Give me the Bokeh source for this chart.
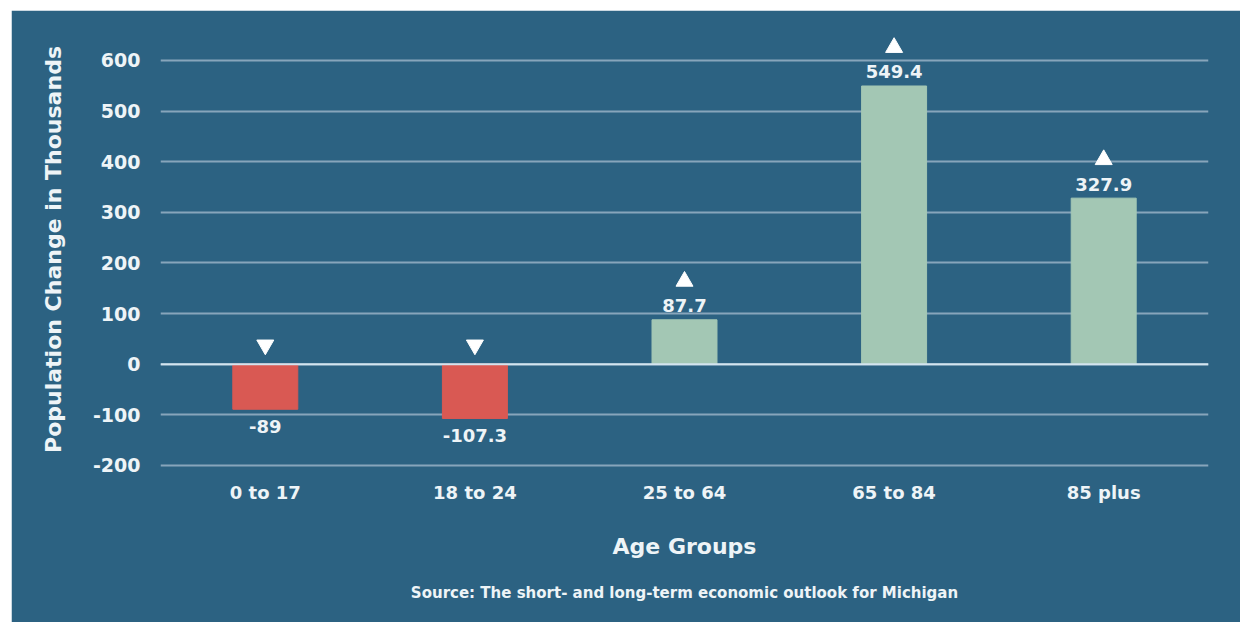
from bokeh.plotting import figure
from bokeh.models import ColumnDataSource, Range1d, FixedTicker, Span, Title, Spacer
from bokeh.layouts import row, column
from bokeh.core.properties import value
from bokeh.embed import file_html
from bokeh.resources import INLINE

categories = ["0 to 17", "18 to 24", "25 to 64", "65 to 84", "85 plus"]
changes = [-89, -107.3, 87.7, 549.4, 327.9]
labels = ["-89", "-107.3", "87.7", "549.4", "327.9"]
y_ticks = [-200, -100, 0, 100, 200, 300, 400, 500, 600]

FONT = "DejaVu Sans"
BG = "#2c6282"
RED = "#d95953"
GREEN = "#a3c7b4"
WHITE = "#eef4f7"

colors = [RED if v < 0 else GREEN for v in changes]
# triangle marker positions (data units): above zero line for declines, above label for gains
tri_y = [38 if v < 0 else v + 76 for v in changes]
tri_marker = ["inverted_triangle" if v < 0 else "triangle" for v in changes]
lab_offset = [17 if v < 0 else -14 for v in changes]

src = ColumnDataSource(dict(cat=categories, val=changes, color=colors, lab=labels,
                            tri_y=tri_y, marker=tri_marker, off=lab_offset))

p = figure(x_range=categories, y_range=Range1d(-206, 659), width=1229, height=612,
           output_backend="svg", toolbar_location=None,
           min_border_left=149, min_border_right=32, min_border_top=20, min_border_bottom=152)

p.background_fill_color = BG
p.border_fill_color = BG
p.outline_line_color = BG
p.outline_line_width = 2

p.vbar(x="cat", top="val", bottom=0, width=0.31, color="color", source=src)

p.scatter(x="cat", y="tri_y", marker="marker", size=17, color="white", source=src)

p.text(x="cat", y="val", text="lab", y_offset="off", text_align="center",
       text_baseline="middle", text_color=WHITE, text_font=value(FONT),
       text_font_size="18px", text_font_style="bold", source=src)

p.add_layout(Span(location=0, dimension="width", line_color="#d3e4ef", line_width=2))

# axes
p.yaxis.ticker = FixedTicker(ticks=y_ticks)
p.yaxis.major_label_overrides = {t: str(t) for t in y_ticks}
p.yaxis.axis_line_color = None
p.yaxis.major_tick_line_color = None
p.yaxis.minor_tick_line_color = None
p.yaxis.major_label_text_color = WHITE
p.yaxis.major_label_text_font = FONT
p.yaxis.major_label_text_font_size = "19px"
p.yaxis.major_label_text_font_style = "bold"
p.yaxis.major_label_standoff = 14
p.yaxis.axis_label = "Population Change in Thousands"
p.yaxis.axis_label_text_color = WHITE
p.yaxis.axis_label_text_font = FONT
p.yaxis.axis_label_text_font_style = "bold"
p.yaxis.axis_label_text_font_size = "22px"
p.yaxis.axis_label_standoff = 24

p.xaxis.axis_line_color = None
p.xaxis.major_tick_line_color = None
p.xaxis.minor_tick_line_color = None
p.xaxis.major_label_text_color = WHITE
p.xaxis.major_label_text_font = FONT
p.xaxis.major_label_text_font_size = "18px"
p.xaxis.major_label_text_font_style = "bold"
p.xaxis.major_label_standoff = 7
p.xaxis.axis_label = "Age Groups"
p.xaxis.axis_label_text_color = WHITE
p.xaxis.axis_label_text_font = FONT
p.xaxis.axis_label_text_font_style = "bold"
p.xaxis.axis_label_text_font_size = "22px"
p.xaxis.axis_label_standoff = 28

p.xgrid.grid_line_color = None
p.ygrid.grid_line_color = "#87a5bb"
p.ygrid.grid_line_width = 2

p.add_layout(Title(text="Source: The short- and long-term economic outlook for Michigan",
                   align="center", text_color=WHITE, text_font=FONT,
                   text_font_size="15px", text_font_style="bold", standoff=41), "below")

layout = row(Spacer(width=11), column(Spacer(height=10), p))

open("out.html", "w").write(file_html(layout, INLINE))
